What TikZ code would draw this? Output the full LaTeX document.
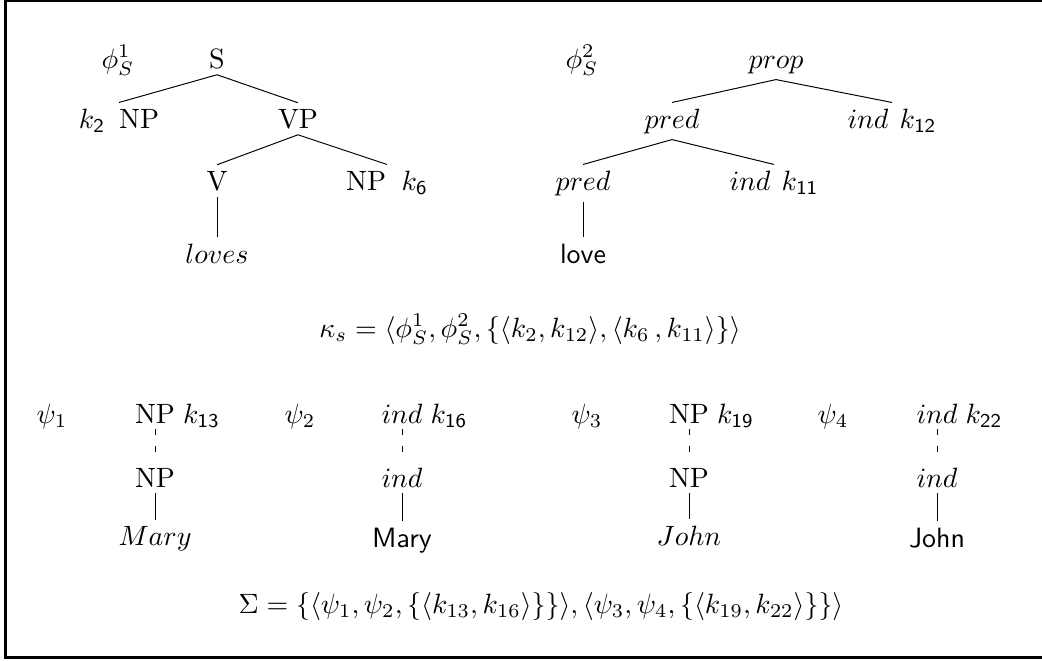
\documentclass[tikz,border=0pt]{standalone}
\usepackage{amsmath}
\usetikzlibrary{positioning}
\begin{document}
\begin{tikzpicture}[x=0.358pt, y=-0.358pt,
    every node/.style={inner sep=2pt},
    cat/.style={anchor=base},
    tag/.style={anchor=base west, inner sep=0pt},
    branch/.style={line width=0.35pt},
    link/.style={line width=0.35pt, dash pattern=on 2pt off 4pt},
    frame/.style={line width=1.1pt}
]
    \useasboundingbox (0,0) rectangle (1042,660);
    \draw[frame] (5.5,0.5) rectangle (1060,657.5);

    % first tree: syntax
    \node[cat] (phi1) at (118,68) {$\phi^1_S$};
    \node[cat] (s) at (217,68) {S};
    \node[cat] (np2) at (119,128) {$k_{\mathsf{2}}$\hspace{5pt}NP};
    \node[cat] (vp) at (298,128) {VP};
    \node[cat] (v) at (217,190) {V};
    \node[cat] (np6) at (387,190) {NP\hspace{5.5pt}$k_{\mathsf{6}}$};
    \node[cat] (loves) at (217,263) {$loves$};

    \draw[branch] (s.south) -- (np2.north);
    \draw[branch] (s.south) -- (vp.north);
    \draw[branch] (vp.south) -- (v.north);
    \draw[branch] (vp.south) -- (np6.north);
    \draw[branch] (v.south) -- (loves.north);

    % second tree: semantics
    \node[cat] (phi2) at (582,68) {$\phi^2_S$};
    \node[cat] (prop) at (776,68) {$prop$};
    \node[cat] (pred1) at (672,128) {$pred$};
    \node[cat] (ind12) at (892,128) {$ind$\hspace{4pt}$k_{\mathsf{12}}$};
    \node[cat] (pred2) at (583,190) {$pred$};
    \node[cat] (ind11) at (774,190) {$ind$\hspace{4pt}$k_{\mathsf{11}}$};
    \node[cat] (love) at (583,263) {\textsf{love}};

    \draw[branch] (prop.south) -- (pred1.north);
    \draw[branch] (prop.south) -- (ind12.north);
    \draw[branch] (pred1.south) -- (pred2.north);
    \draw[branch] (pred1.south) -- (ind11.north);
    \draw[branch] (pred2.south) -- (love.north);

    \node[cat] (kappa) at (530,337) {$\kappa_s = \langle \phi^1_S, \phi^2_S, \{\langle k_2, k_{12}\rangle, \langle k_6\,, k_{11}\rangle\}\rangle$};

    % lexical pairs
    \node[cat] (psi1) at (52,423) {$\psi_1$};
    \node[cat] (np13) at (155,423) {NP};
    \node[tag] (k13) at ([xshift=0.5pt]np13.base east) {$k_{\mathsf{13}}$};
    \node[cat] (npm) at (155,487) {NP};
    \node[cat] (mary1) at (155,545) {$Mary$};

    \node[cat] (psi2) at (300,423) {$\psi_2$};
    \node[cat] (ind16) at (402,423) {$ind$};
    \node[tag] (k16) at ([xshift=0.5pt]ind16.base east) {$k_{\mathsf{16}}$};
    \node[cat] (indm) at (402,487) {$ind$};
    \node[cat] (mary2) at (402,547) {\textsf{Mary}};

    \node[cat] (psi3) at (587,423) {$\psi_3$};
    \node[cat] (np19) at (689,423) {NP};
    \node[tag] (k19) at ([xshift=0.5pt]np19.base east) {$k_{\mathsf{19}}$};
    \node[cat] (npj) at (689,487) {NP};
    \node[cat] (john1) at (689,545) {$John$};

    \node[cat] (psi4) at (833,423) {$\psi_4$};
    \node[cat] (ind22) at (937,423) {$ind$};
    \node[tag] (k22) at ([xshift=0.5pt]ind22.base east) {$k_{\mathsf{22}}$};
    \node[cat] (indj) at (937,487) {$ind$};
    \node[cat] (john2) at (937,547) {\textsf{John}};

    \draw[link] (np13.south) -- (npm.north);
    \draw[branch] (npm.south) -- (mary1.north);
    \draw[link] (ind16.south) -- (indm.north);
    \draw[branch] (indm.south) -- (mary2.north);
    \draw[link] (np19.south) -- (npj.north);
    \draw[branch] (npj.south) -- (john1.north);
    \draw[link] (ind22.south) -- (indj.north);
    \draw[branch] (indj.south) -- (john2.north);

    \node[cat] (sigma) at (541,613) {$\Sigma = \{\langle \psi_1, \psi_2, \{\langle k_{13}, k_{16}\rangle\}\}\rangle, \langle \psi_3, \psi_4, \{\langle k_{19}, k_{22}\rangle\}\}\rangle$};
\end{tikzpicture}
\end{document}
